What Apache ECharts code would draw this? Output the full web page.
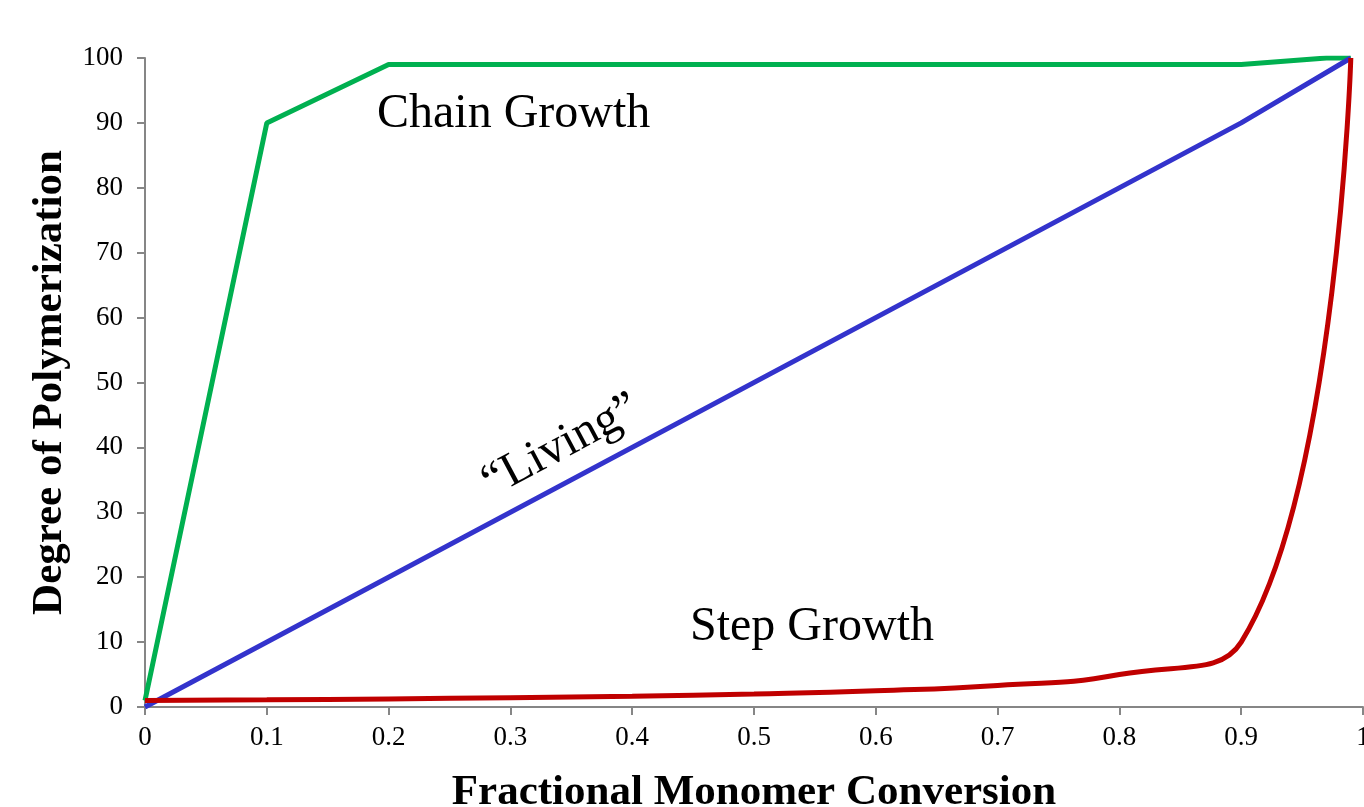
<!DOCTYPE html>
<html>
<head>
<meta charset="utf-8">
<script src="https://cdn.jsdelivr.net/npm/echarts@6/dist/echarts.min.js"></script>
<style>
html,body{margin:0;padding:0;background:#fff;}
#main{width:1364px;height:807px;}
</style>
</head>
<body>
<div id="main"></div>
<script>
// Data
const chainX = [0, 0.1, 0.2, 0.9, 0.97, 0.99];
const chainY = [1, 90, 99, 99, 100, 100];
const livingX = [0, 0.9, 0.99];
const livingY = [0, 90, 100];
const stepX = [0, 0.1, 0.2, 0.3, 0.4, 0.5, 0.6, 0.7, 0.8, 0.9, 0.99];
const stepY = [1, 1.11, 1.25, 1.43, 1.67, 2, 2.5, 3.33, 5, 10, 100];
const xTicks = ['0', '0.1', '0.2', '0.3', '0.4', '0.5', '0.6', '0.7', '0.8', '0.9', '1'];
const yTicks = [0, 10, 20, 30, 40, 50, 60, 70, 80, 90, 100];

const pair = (xs, ys) => xs.map((x, i) => [x, ys[i]]);
const FONT = '"Liberation Serif", "Times New Roman", serif';

const chart = echarts.init(document.getElementById('main'), null, {renderer: 'canvas'});
chart.setOption({
  animation: false,
  backgroundColor: '#ffffff',
  grid: {left: 145, right: 1, top: 58, bottom: 100, containLabel: false, outerBoundsMode: 'none'},
  xAxis: {
    type: 'value', min: 0, max: 1, interval: 0.1,
    name: 'Fractional Monomer Conversion',
    nameLocation: 'middle', nameGap: 64,
    nameTextStyle: {fontFamily: FONT, fontWeight: 'bold', fontSize: 43, color: '#000'},
    axisLine: {show: true, onZero: false, lineStyle: {color: '#868686', width: 2}},
    axisTick: {show: true, length: 8, lineStyle: {color: '#868686', width: 2}},
    axisLabel: {fontFamily: FONT, fontSize: 27, color: '#000', margin: 17, hideOverlap: false,
      formatter: v => xTicks[Math.round(v * 10)]},
    splitLine: {show: false}
  },
  yAxis: {
    type: 'value', min: 0, max: 100, interval: 10,
    name: 'Degree of Polymerization',
    nameLocation: 'middle', nameGap: 72, nameRotate: 90,
    nameTextStyle: {fontFamily: FONT, fontWeight: 'bold', fontSize: 43, color: '#000'},
    axisLine: {show: true, lineStyle: {color: '#868686', width: 2}},
    axisTick: {show: true, length: 8, lineStyle: {color: '#868686', width: 2}},
    axisLabel: {fontFamily: FONT, fontSize: 27, color: '#000', margin: 22,
      formatter: v => String(yTicks[Math.round(v / 10)])},
    splitLine: {show: false}
  },
  series: [
    {type: 'line', name: 'Chain Growth', data: pair(chainX, chainY), showSymbol: false,
     lineStyle: {color: '#00B050', width: 5}, itemStyle: {color: '#00B050'}, z: 2},
    {type: 'line', name: 'Living', data: pair(livingX, livingY), showSymbol: false,
     lineStyle: {color: '#3333CC', width: 5}, itemStyle: {color: '#3333CC'}, z: 3},
    {type: 'line', name: 'Step Growth', data: pair(stepX, stepY), showSymbol: false, smooth: 0.5,
     lineStyle: {color: '#C00000', width: 5}, itemStyle: {color: '#C00000'}, z: 4}
  ],
  graphic: [
    {type: 'text', left: 377, top: 90, style: {text: 'Chain Growth', font: '48px ' + FONT, fill: '#000'}},
    {type: 'text', left: 690, top: 603, style: {text: 'Step Growth', font: '48px ' + FONT, fill: '#000'}},
    {type: 'text', x: 561, y: 446, rotation: 28 * Math.PI / 180,
     style: {text: '\u201CLiving\u201D', font: '48px ' + FONT, fill: '#000', align: 'center', verticalAlign: 'middle'}}
  ]
});
</script>
</body>
</html>
